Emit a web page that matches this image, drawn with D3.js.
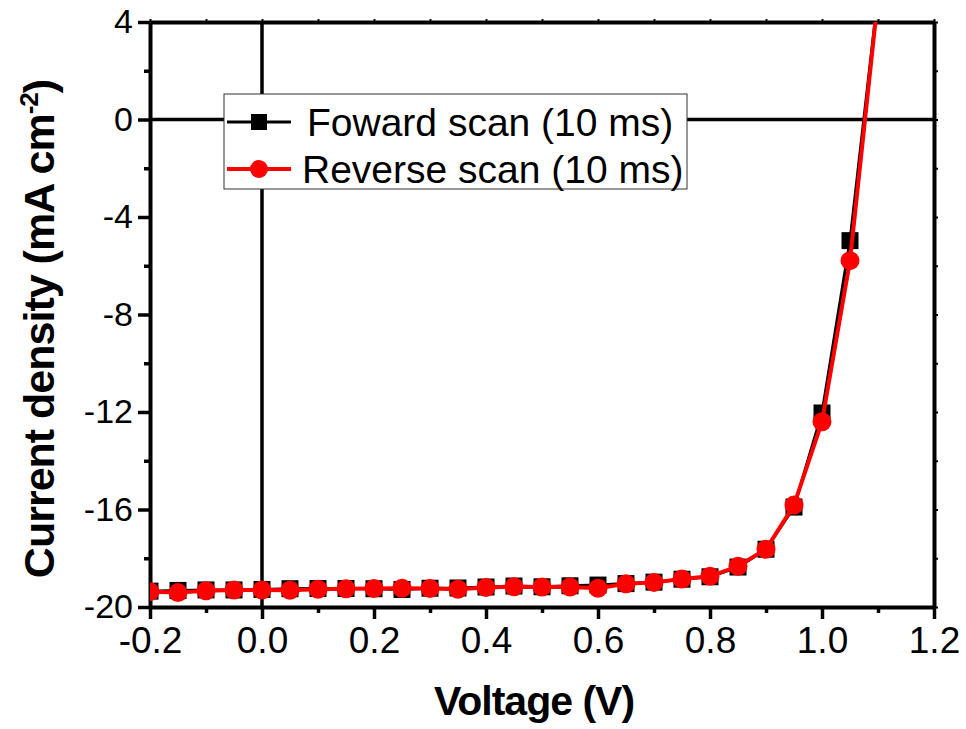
<!DOCTYPE html>
<html>
<head>
<meta charset="utf-8">
<script src="https://cdn.jsdelivr.net/npm/d3@7"></script>
<style>
  body { margin: 0; background: #fff; }
  svg { display: block; font-family: "Liberation Sans", Arial, sans-serif; }
</style>
</head>
<body>
<div id="chart"></div>
<script>
let width = 966,
    height = 729

let margin = { top: 22, right: 32, bottom: 122, left: 150 }

let w = width - margin.left - margin.right
let h = height - margin.top - margin.bottom

// data
let voltage = [-0.2, -0.15, -0.1, -0.05, 0, 0.05, 0.1, 0.15, 0.2, 0.25, 0.3, 0.35, 0.4, 0.45,
    0.5, 0.55, 0.6, 0.65, 0.7, 0.75, 0.8, 0.85, 0.9, 0.95, 1.0, 1.05, 1.1]
let forwardJ = [-19.35, -19.32, -19.3, -19.3, -19.28, -19.25, -19.24, -19.24, -19.25, -19.28, -19.23, -19.22, -19.18, -19.14,
    -19.17, -19.13, -19.1, -19.04, -18.98, -18.86, -18.76, -18.36, -17.63, -15.9, -12.04, -4.97, 5.1]
let reverseJ = [-19.37, -19.41, -19.33, -19.3, -19.3, -19.31, -19.27, -19.25, -19.24, -19.23, -19.24, -19.27, -19.2, -19.17,
    -19.18, -19.18, -19.23, -19.05, -18.99, -18.85, -18.74, -18.33, -17.63, -15.82, -12.4, -5.79, 5.0]

let xTicks = [-0.2, 0.0, 0.2, 0.4, 0.6, 0.8, 1.0, 1.2]
let xMinor = [-0.1, 0.1, 0.3, 0.5, 0.7, 0.9, 1.1]
let yTicks = [4, 0, -4, -8, -12, -16, -20]
let yMinor = [2, -2, -6, -10, -14, -18]

let seriesNames = ["Foward scan (10 ms)", "Reverse scan (10 ms)"]
let seriesColors = ["#000000", "#ff0000"]

let xScale = d3.scaleLinear().domain([-0.2, 1.2]).range([0, w])
let yScale = d3.scaleLinear().domain([-20, 4]).range([h, 0])

// plain hyphen instead of the unicode minus
let fmtX = function (d) { return d.toFixed(1).replace("\u2212", "-") }
let fmtY = function (d) { return String(d) }

let svg = d3.select("#chart")
    .append("svg")
    .attr("width", width)
    .attr("height", height)

let g = svg.append("g")
    .attr("transform", "translate(" + margin.left + "," + margin.top + ")")

svg.append("defs").append("clipPath")
    .attr("id", "plot-clip")
    .append("rect")
    .attr("width", w)
    .attr("height", h)

// zero lines
g.append("line")
    .attr("x1", 0).attr("x2", w)
    .attr("y1", yScale(0)).attr("y2", yScale(0))
    .attr("stroke", "#000").attr("stroke-width", 3.5)
g.append("line")
    .attr("x1", xScale(0)).attr("x2", xScale(0))
    .attr("y1", 0).attr("y2", h)
    .attr("stroke", "#000").attr("stroke-width", 3.5)

// axes
function styleAxis(sel, fontSize) {
    sel.select(".domain").attr("stroke-width", 4)
    sel.selectAll(".tick line").attr("stroke-width", 3.5)
    sel.selectAll(".tick text")
        .attr("font-size", fontSize)
        .attr("font-family", "Liberation Sans, Arial, sans-serif")
}

let xAxis = d3.axisBottom(xScale).tickValues(xTicks).tickSize(12).tickPadding(8)
    .tickFormat(fmtX).tickSizeOuter(0)
g.append("g")
    .attr("transform", "translate(0," + h + ")")
    .call(xAxis)
    .call(s => styleAxis(s, 37))

g.append("g")
    .attr("transform", "translate(0," + h + ")")
    .call(d3.axisBottom(xScale).tickValues(xMinor).tickSize(6).tickFormat("").tickSizeOuter(0))
    .call(s => { s.select(".domain").remove(); s.selectAll(".tick line").attr("stroke-width", 3.5) })

let yAxis = d3.axisLeft(yScale).tickValues(yTicks).tickSize(12).tickPadding(5)
    .tickFormat(fmtY).tickSizeOuter(0)
g.append("g")
    .call(yAxis)
    .call(s => styleAxis(s, 34))

g.append("g")
    .call(d3.axisLeft(yScale).tickValues(yMinor).tickSize(6).tickFormat("").tickSizeOuter(0))
    .call(s => { s.select(".domain").remove(); s.selectAll(".tick line").attr("stroke-width", 3.5) })

// top and right frame
g.append("g")
    .call(d3.axisTop(xScale).tickValues(xTicks.concat(xMinor)).tickSize(3).tickFormat("").tickSizeOuter(0))
    .call(s => { s.select(".domain").attr("stroke-width", 4); s.selectAll(".tick line").attr("stroke-width", 2) })
g.append("g")
    .attr("transform", "translate(" + w + ",0)")
    .call(d3.axisRight(yScale).tickValues(yTicks.concat(yMinor)).tickSize(4).tickFormat("").tickSizeOuter(0))
    .call(s => { s.select(".domain").attr("stroke-width", 4); s.selectAll(".tick line").attr("stroke-width", 2) })

// axis titles
svg.append("text")
    .attr("x", 534)
    .attr("y", 715)
    .attr("text-anchor", "middle")
    .attr("font-size", 41)
    .attr("font-weight", "bold")
    .attr("letter-spacing", -1)
    .text("Voltage (V)")

let yTitle = svg.append("text")
    .attr("transform", "translate(54," + 329 + ") rotate(-90)")
    .attr("text-anchor", "middle")
    .attr("font-size", 43)
    .attr("font-weight", "bold")
    .attr("letter-spacing", -1)
yTitle.append("tspan").text("Current density (mA cm")
yTitle.append("tspan").attr("dy", -16).attr("font-size", 26).text("-2")
yTitle.append("tspan").attr("dy", 16).text(")")

// series
let plot = g.append("g").attr("clip-path", "url(#plot-clip)")
let line = d3.line()
    .x(function (d) { return xScale(d[0]) })
    .y(function (d) { return yScale(d[1]) })

let fwd = voltage.map(function (v, i) { return [v, forwardJ[i]] })
let rev = voltage.map(function (v, i) { return [v, reverseJ[i]] })

plot.append("path").datum(fwd)
    .attr("d", line).attr("fill", "none")
    .attr("stroke", seriesColors[0]).attr("stroke-width", 3)

plot.selectAll(".sq").data(fwd).enter().append("rect")
    .attr("x", function (d) { return xScale(d[0]) - 8.5 })
    .attr("y", function (d) { return yScale(d[1]) - 8.5 })
    .attr("width", 17).attr("height", 17)
    .attr("fill", seriesColors[0])

plot.append("path").datum(rev)
    .attr("d", line).attr("fill", "none")
    .attr("stroke", seriesColors[1]).attr("stroke-width", 4)

plot.selectAll(".dot").data(rev).enter().append("circle")
    .attr("cx", function (d) { return xScale(d[0]) })
    .attr("cy", function (d) { return yScale(d[1]) })
    .attr("r", 9.5)
    .attr("fill", seriesColors[1])

// legend
let legend = svg.append("g").attr("transform", "translate(224,94)")
legend.append("rect")
    .attr("width", 463).attr("height", 95)
    .attr("fill", "#fff").attr("stroke", "#333").attr("stroke-width", 1)

let rows = legend.selectAll(".row").data(seriesNames).enter().append("g")
    .attr("transform", function (d, i) { return "translate(0," + (28 + i * 47) + ")" })

rows.append("line")
    .attr("x1", 3).attr("x2", 67)
    .attr("stroke", function (d, i) { return seriesColors[i] })
    .attr("stroke-width", function (d, i) { return i ? 4 : 3 })

rows.filter(function (d, i) { return i === 0 }).append("rect")
    .attr("x", 27).attr("y", -8).attr("width", 16).attr("height", 16)
    .attr("fill", seriesColors[0])
rows.filter(function (d, i) { return i === 1 }).append("circle")
    .attr("cx", 35).attr("r", 9)
    .attr("fill", seriesColors[1])

rows.append("text")
    .attr("x", function (d, i) { return i ? 78 : 83 })
    .attr("dy", "0.36em")
    .attr("font-size", 39)
    .text(function (d) { return d })
</script>
</body>
</html>
